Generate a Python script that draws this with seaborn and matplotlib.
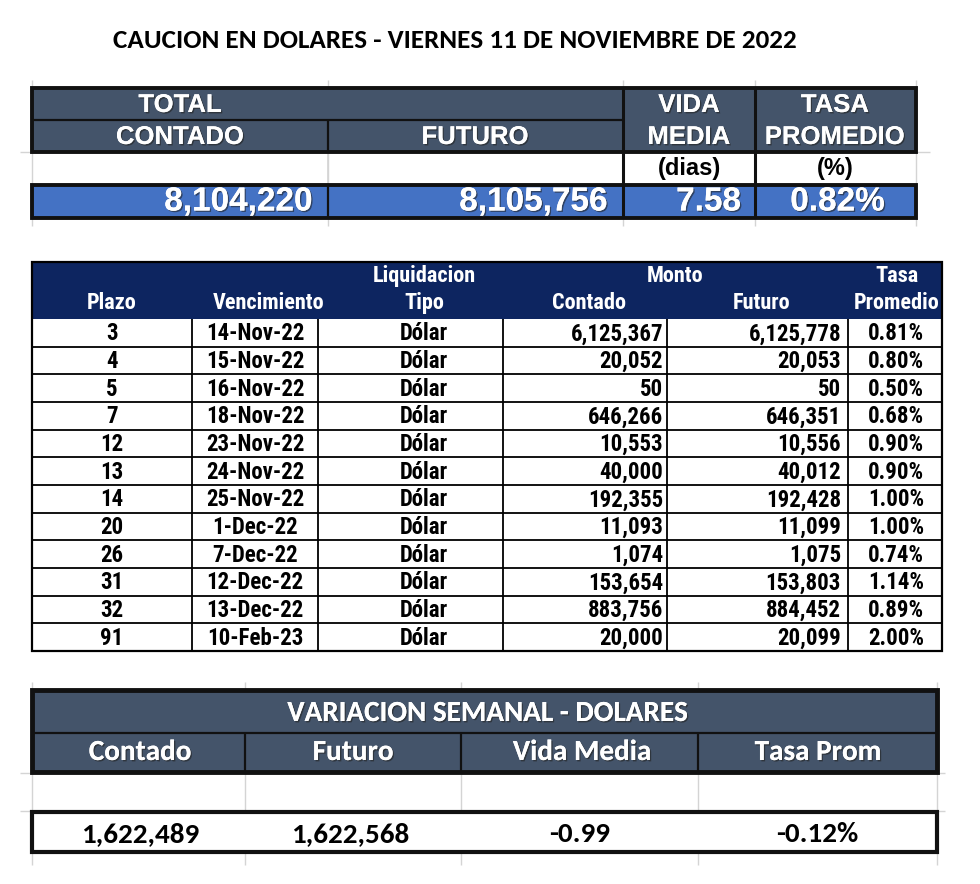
import matplotlib
matplotlib.use('Agg')
import matplotlib.pyplot as plt
import matplotlib.font_manager as fm
import matplotlib.patheffects as pe
from matplotlib.patches import Rectangle
import seaborn as sns

# Data
titulo = 'CAUCION EN DOLARES - VIERNES 11 DE NOVIEMBRE DE 2022'

total_contado = 8104220
total_futuro = 8105756
total_vida_media = 7.58
total_tasa = 0.82

plazo = [3, 4, 5, 7, 12, 13, 14, 20, 26, 31, 32, 91]
vencimiento = ['14-Nov-22', '15-Nov-22', '16-Nov-22', '18-Nov-22', '23-Nov-22', '24-Nov-22',
               '25-Nov-22', '1-Dec-22', '7-Dec-22', '12-Dec-22', '13-Dec-22', '10-Feb-23']
tipo = ['Dólar'] * 12
contado = [6125367, 20052, 50, 646266, 10553, 40000, 192355, 11093, 1074, 153654, 883756, 20000]
futuro = [6125778, 20053, 50, 646351, 10556, 40012, 192428, 11099, 1075, 153803, 884452, 20099]
tasa = [0.81, 0.80, 0.50, 0.68, 0.90, 0.90, 1.00, 1.00, 0.74, 1.14, 0.89, 2.00]

var_contado = 1622489
var_futuro = 1622568
var_vida_media = -0.99
var_tasa = -0.12

sns.set_theme(style='white')
names = {f.name for f in fm.fontManager.ttflist}


def pick(options):
    for o in options:
        if o in names:
            return o
    return 'DejaVu Sans'


calibri = pick(['Carlito', 'Lato'])
narrow = pick(['Roboto Condensed', 'Barlow Semi Condensed', 'Liberation Sans'])
plt.rcParams['font.family'] = ['Liberation Sans', 'DejaVu Sans']

fig = plt.figure(figsize=(9.8, 8.84), dpi=100)
ax = fig.add_axes([0, 0, 1, 1])
ax.set_xlim(0, 980)
ax.set_ylim(884, 0)
ax.axis('off')

GRID = '#d4d4d4'
shadow = [pe.withSimplePatchShadow(offset=(1, -1), shadow_rgbFace='#222222', alpha=0.6), pe.Normal()]


def box(x0, x1, y0, y1, face='none', edge='black', lw=1.0, z=1):
    ax.add_patch(Rectangle((x0, y0), x1 - x0, y1 - y0, facecolor=face,
                           edgecolor=edge, linewidth=lw, zorder=z))


def vline(x, y0, y1, color='black', lw=1.0, z=3):
    ax.plot([x, x], [y0, y1], color=color, lw=lw, zorder=z, solid_capstyle='butt')


def hline(y, x0, x1, color='black', lw=1.0, z=3):
    ax.plot([x0, x1], [y, y], color=color, lw=lw, zorder=z, solid_capstyle='butt')


# Title
ax.text(455, 41, titulo, ha='center', va='center', fontsize=19.5,
        fontweight='bold', family=calibri, color='black')

# ---------------- Top table ----------------
tx = [32, 328, 623, 755, 916]
ty = [88, 120, 152, 185, 218]
for x in tx:
    vline(x, 80, 226, color=GRID, lw=1, z=0)
hline(152, 20, 930, color=GRID, lw=1, z=0)

box(tx[0], tx[4], ty[0], ty[2], face='#44546A', edge='none', z=1)
box(tx[0], tx[4], ty[3], ty[4], face='#4472C4', edge='none', z=1)
box(tx[0], tx[4], ty[0], ty[2], edge='#111111', lw=2.8, z=4)
box(tx[0], tx[4], ty[3], ty[4], edge='#111111', lw=2.8, z=4)
hline(ty[1], tx[0], tx[2], color='#111111', lw=1.6)
vline(tx[1], ty[1], ty[2], color='#111111', lw=1.6)
for x in tx[2:4]:
    vline(x, ty[0], ty[4], color='#111111', lw=2.2)
vline(tx[1], ty[2], ty[3], color=GRID, lw=1.2)
vline(tx[1], ty[3], ty[4], color='#111111', lw=1.6)

hdr = dict(ha='center', va='center', fontsize=18.5, fontweight='bold', color='white',
           zorder=5, path_effects=shadow)
ax.text(180, 105, 'TOTAL', **hdr)
ax.text(180, 137, 'CONTADO', **hdr)
ax.text(475, 137, 'FUTURO', **hdr)
ax.text(689, 105, 'VIDA', **hdr)
ax.text(689, 137, 'MEDIA', **hdr)
ax.text(835, 105, 'TASA', **hdr)
ax.text(835, 137, 'PROMEDIO', **hdr)
sub = dict(ha='center', va='center', fontsize=17, fontweight='bold', color='black', zorder=5)
ax.text(689, 169, '(dias)', **sub)
ax.text(835, 169, '(%)', **sub)

val = dict(ha='right', va='center', fontsize=24, fontweight='bold', color='white',
           zorder=5, path_effects=shadow)
ax.text(tx[1] - 15, 202, f'{total_contado:,}', **val)
ax.text(tx[2] - 15, 202, f'{total_futuro:,}', **val)
ax.text(tx[3] - 14, 202, f'{total_vida_media:.2f}', **val)
ax.text(885, 202, f'{total_tasa:.2f}%', **val)

# ---------------- Middle table ----------------
mx = [32, 192, 318, 503, 667, 848, 942]
my0, my1 = 262, 319
rh = (651 - my1) / len(plazo)

box(mx[0], mx[6], my0, my1, face='#0D2560', edge='none', z=1)
mh = dict(ha='center', va='center', fontsize=16, fontweight='bold', color='white',
          family=narrow, zorder=5)
ax.text(424, 276, 'Liquidacion', **mh)
ax.text(675, 276, 'Monto', **mh)
ax.text(897, 276, 'Tasa', **mh)
ax.text(112, 303, 'Plazo', **mh)
ax.text(269, 303, 'Vencimiento', **mh)
ax.text(424, 303, 'Tipo', **mh)
ax.text(589, 303, 'Contado', **mh)
ax.text(762, 303, 'Futuro', **mh)
ax.text(897, 303, 'Promedio', **mh)

cell = dict(va='center', fontsize=16.5, fontweight='bold', color='black', family=narrow, zorder=5)
for i in range(len(plazo)):
    y0 = my1 + i * rh
    yc = y0 + rh / 2 + 1
    hline(y0 + rh, mx[0], mx[6], lw=1.3)
    ax.text(112, yc, str(plazo[i]), ha='center', **cell)
    ax.text(255, yc, vencimiento[i], ha='center', **cell)
    ax.text(424, yc, tipo[i], ha='center', **cell)
    ax.text(mx[4] - 4, yc, f'{contado[i]:,}', ha='right', **cell)
    ax.text(mx[5] - 7, yc, f'{futuro[i]:,}', ha='right', **cell)
    ax.text(896, yc, f'{tasa[i]:.2f}%', ha='center', **cell)
for x in mx[1:6]:
    vline(x, my1, 651, lw=1.3)
box(mx[0], mx[6], my0, 651, edge='black', lw=1.6, z=4)

# ---------------- Bottom table ----------------
bx = [32, 245, 461, 698, 937]
by = [690, 733, 772, 812, 852]
for x in bx:
    vline(x, 682, 865, color=GRID, lw=1, z=0)
hline(by[2] + 1, 20, 945, color=GRID, lw=1, z=0)
hline(by[3] - 1, 20, 945, color=GRID, lw=1, z=0)

box(bx[0], bx[4], by[0], by[2], face='#44546A', edge='none', z=1)
hline(by[1], bx[0], bx[4], color='#111111', lw=1.6)
for x in bx[1:4]:
    vline(x, by[1], by[2], color='#111111', lw=1.6)
box(bx[0], bx[4], by[0], by[2], edge='#111111', lw=3.5, z=4)

bh = dict(ha='center', va='center', fontweight='bold', color='white',
          family=calibri, zorder=5, path_effects=shadow)
ax.text(487, 713, 'VARIACION SEMANAL - DOLARES', fontsize=21, **bh)
ax.text(140, 752, 'Contado', fontsize=21, **bh)
ax.text(353, 752, 'Futuro', fontsize=21, **bh)
ax.text(582, 752, 'Vida Media', fontsize=21, **bh)
ax.text(818, 752, 'Tasa Prom', fontsize=21, **bh)

box(bx[0], bx[4], by[3], by[4], face='white', edge='#111111', lw=3, z=4)
for x in bx[1:4]:
    vline(x, by[3], by[4], color='#111111', lw=2)
bv = dict(ha='center', va='center', fontsize=21, fontweight='bold', color='black',
          family=calibri, zorder=5)
ax.text(140, 834, f'{var_contado:,}', **bv)
ax.text(350, 834, f'{var_futuro:,}', **bv)
ax.text(580, 834, f'{var_vida_media:.2f}', **bv)
ax.text(817, 834, f'{var_tasa:.2f}%', **bv)

fig.savefig('out.png', dpi=100, facecolor='white')
